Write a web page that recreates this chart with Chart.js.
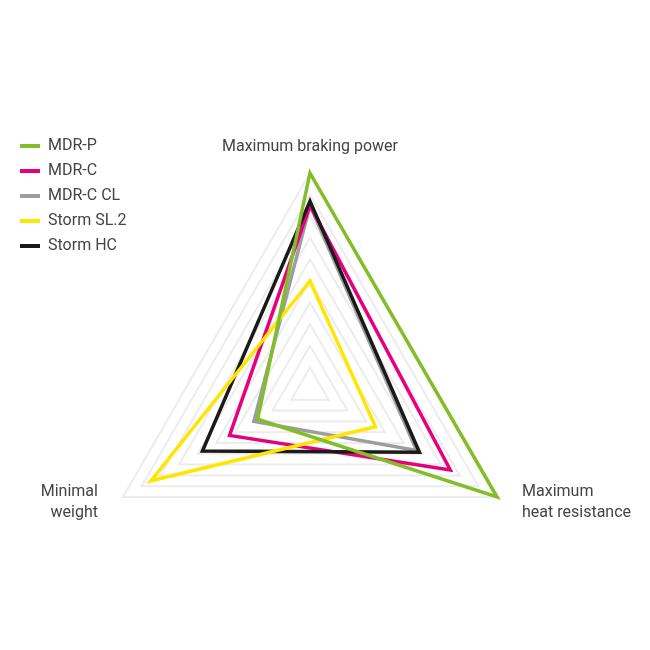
<!DOCTYPE html>
<html>
<head>
<meta charset="utf-8">
<script src="https://cdn.jsdelivr.net/npm/chart.js@4"></script>
<style>
  html, body { margin: 0; padding: 0; background: #fff; }
  #wrap { width: 650px; height: 650px; }
</style>
</head>
<body>
<div id="wrap"><canvas id="chart" width="650" height="650"></canvas></div>
<script>
// ---- Data -------------------------------------------------
// axes clockwise from the top
const axisLabels = ['Maximum braking power', ['Maximum', 'heat resistance'], ['Minimal', 'weight']];

const seriesNames = ['MDR-P', 'MDR-C', 'MDR-C CL', 'Storm SL.2', 'Storm HC'];
const mdrP     = [10, 10, 2.8];
const mdrC     = [8.5, 7.5, 4.3];
const mdrCCL   = [8.5, 5.7, 3.0];
const stormSL2 = [5.0, 3.5, 8.5];
const stormHC  = [8.7, 5.85, 5.75];

const scaleMax  = 10;
const scaleStep = 1;

// ---- Styles -----------------------------------------------
const colors = ['#84bd2a', '#e6007e', '#9d9d9d', '#ffe600', '#1a1a1a'];
const drawOrder = [0, 3, 4, 1, 2];   // lower = drawn on top
const textColor = '#444';
const fontFamily = 'Roboto, "Open Sans", sans-serif';
const fontSize = 16;

const seriesValues = [mdrP, mdrC, mdrCCL, stormSL2, stormHC];

const datasets = seriesNames.map((name, i) => ({
  label: name,
  data: seriesValues[i],
  borderColor: colors[i],
  backgroundColor: colors[i],
  borderWidth: 3.5,
  borderJoinStyle: 'miter',
  fill: false,
  pointRadius: 0,
  pointHoverRadius: 0,
  order: drawOrder[i]
}));

/* ---- Legend: keep its layout box narrow, but let the text run past it ---- */
const legendOverflow = {
  id: 'legendOverflow',
  afterLayout(chart) {
    const lg = chart.legend;
    if (!lg) return;
    lg.width = 160;
    lg.right = lg.left + lg.width;
  }
};

/* ---- Axis titles, drawn next to each vertex ---- */
const axisTitles = {
  id: 'axisTitles',
  afterDraw(chart) {
    const scale = chart.scales.r;
    const ctx = chart.ctx;
    ctx.save();
    ctx.font = fontSize + 'px ' + fontFamily;
    ctx.fillStyle = textColor;
    ctx.textBaseline = 'middle';
    chart.data.labels.forEach((label, i) => {
      const lines = [].concat(label);
      const p = scale.getPointPosition(i, scale.drawingArea);
      const dx = p.x - scale.xCenter;
      if (Math.abs(dx) < 1) {
        ctx.textAlign = 'center';
        ctx.fillText(lines[0], p.x, p.y - 26);
      } else {
        ctx.textAlign = dx > 0 ? 'left' : 'right';
        const x = dx > 0 ? p.x + 25 : p.x - 25;
        lines.forEach((line, k) => ctx.fillText(line, x, p.y - 5 + k * 21));
      }
    });
    ctx.restore();
  }
};

new Chart(document.getElementById('chart'), {
  type: 'radar',
  data: { labels: axisLabels, datasets: datasets },
  options: {
    responsive: false,
    animation: false,
    // legend box (83 wide) + these paddings leave a 432px square centred at (310, 389)
    layout: { padding: { left: 11, right: 124, top: 129, bottom: 1 } },
    elements: { line: { tension: 0 } },
    scales: {
      r: {
        min: 0,
        max: scaleMax,
        ticks: { display: false, stepSize: scaleStep },
        grid: { color: '#ececec', lineWidth: 2 },
        angleLines: { display: false },
        pointLabels: { display: false }
      }
    },
    plugins: {
      legend: {
        position: 'left',
        align: 'start',
        maxWidth: 83,
        labels: {
          boxWidth: 20,
          boxHeight: 4,
          padding: 9,
          color: textColor,
          font: { family: fontFamily, size: fontSize },
          sort: (a, b) => a.datasetIndex - b.datasetIndex,
          generateLabels: chart =>
            Chart.defaults.plugins.legend.labels.generateLabels(chart)
              .map(l => ({ ...l, lineWidth: 0 }))
        }
      },
      tooltip: { enabled: false }
    }
  },
  plugins: [legendOverflow, axisTitles]
});
</script>
</body>
</html>
